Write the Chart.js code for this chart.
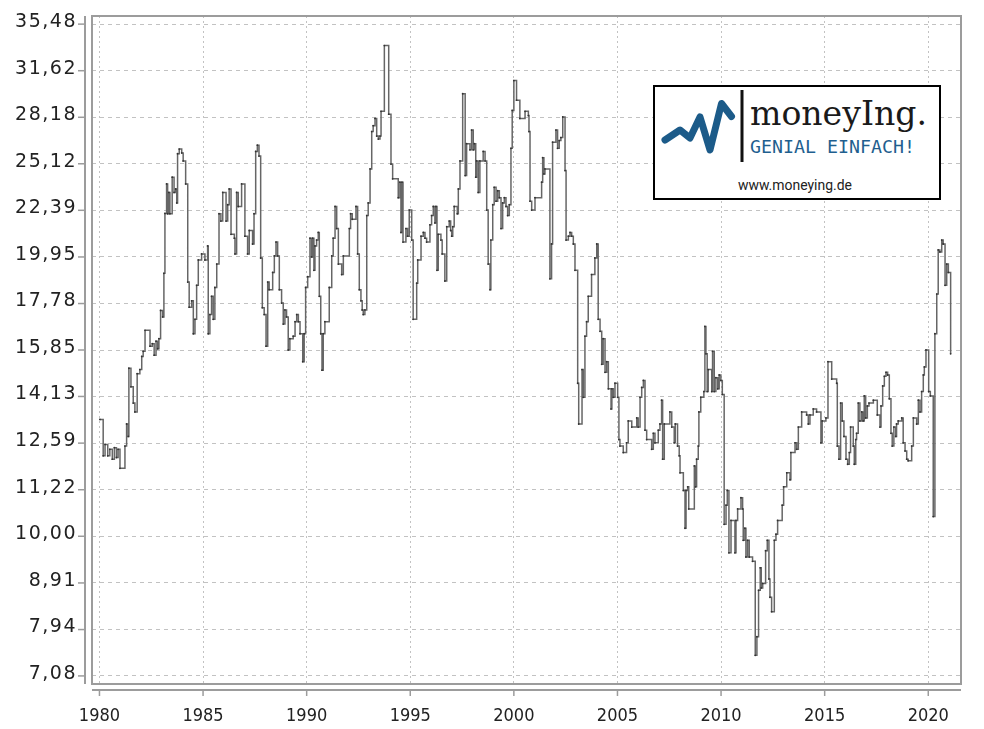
<!DOCTYPE html>
<html>
<head>
<meta charset="utf-8">
<title>KGV</title>
<script src="https://cdn.jsdelivr.net/npm/chart.js@4.4.1/dist/chart.umd.min.js"></script>
<style>
    html, body { margin: 0; padding: 0; background: #fff; }
    #wrap { position: relative; width: 984px; height: 729px; }
    #logo { position: absolute; left: 653px; top: 85px; width: 288px; height: 115px;
            box-sizing: border-box; border: 2px solid #000; background: #fff; }
    #logo svg { position: absolute; left: 0; top: 0; }
</style>
</head>
<body>
<div id="wrap">
    <canvas id="kgv-chart" width="984" height="729"></canvas>
    <div id="logo">
        <svg width="284" height="111" viewBox="0 0 284 111">
            <polyline points="10,53 25,43 35,51 45,30 55,63 66.5,16.5 76.5,29.5"
                      fill="none" stroke="#1c5b89" stroke-width="7" stroke-linecap="round" stroke-linejoin="round"/>
            <rect x="85.5" y="3" width="3" height="72" fill="#111"/>
            <text x="95" y="38" font-family="DejaVu Serif" font-size="34" fill="#1a1a1a"
                  textLength="177" lengthAdjust="spacingAndGlyphs">moneyIng.</text>
            <text x="95" y="66" font-family="DejaVu Sans Mono" font-size="17" fill="#1f5f8f"
                  textLength="165" lengthAdjust="spacingAndGlyphs">GENIAL EINFACH!</text>
            <text x="83" y="103" font-family="Roboto" font-size="15" fill="#222"
                  textLength="114" lengthAdjust="spacingAndGlyphs">www.moneying.de</text>
        </svg>
    </div>
</div>
<script>
// KGV-Verlauf (monatlich)
const years = [
    1980.02, 1980.18, 1980.27, 1980.4, 1980.5, 1980.62, 1980.72, 1980.82, 1980.9, 1980.99,
    1981.23, 1981.31, 1981.39, 1981.42, 1981.52, 1981.63, 1981.71, 1981.82, 1981.95,
    1982.04, 1982.11, 1982.2, 1982.44, 1982.55, 1982.64, 1982.73, 1982.81, 1982.87, 1982.95,
    1983.05, 1983.11, 1983.16, 1983.24, 1983.29, 1983.35, 1983.4, 1983.51, 1983.6, 1983.68, 1983.73, 1983.77, 1983.85, 1983.97,
    1984.04, 1984.16, 1984.26, 1984.33, 1984.45, 1984.53, 1984.61, 1984.69, 1984.77, 1984.93,
    1985.09, 1985.22, 1985.25, 1985.33, 1985.41, 1985.49, 1985.57, 1985.66, 1985.77, 1985.86, 1985.95,
    1986.11, 1986.19, 1986.26, 1986.35, 1986.51, 1986.54, 1986.62, 1986.7, 1986.86,
    1987.02, 1987.15, 1987.23, 1987.39, 1987.46, 1987.54, 1987.62, 1987.7, 1987.78, 1987.86, 1987.95,
    1988.04, 1988.12, 1988.19, 1988.36, 1988.44, 1988.52, 1988.6, 1988.68, 1988.79, 1988.87, 1988.95,
    1989.03, 1989.11, 1989.19, 1989.35, 1989.44, 1989.52, 1989.6, 1989.68, 1989.81, 1989.88, 1989.95,
    1990.05, 1990.16, 1990.24, 1990.29, 1990.35, 1990.4, 1990.48, 1990.56, 1990.61, 1990.68, 1990.74, 1990.8, 1990.88,
    1991.09, 1991.21, 1991.28, 1991.37, 1991.45, 1991.53, 1991.69, 1991.77,
    1992.06, 1992.12, 1992.2, 1992.38, 1992.46, 1992.54, 1992.62, 1992.68, 1992.73, 1992.81, 1992.9, 1992.97,
    1993.06, 1993.14, 1993.21, 1993.3, 1993.38, 1993.46, 1993.54, 1993.59, 1993.75, 1993.96,
    1994.07, 1994.15, 1994.42, 1994.5, 1994.55, 1994.6, 1994.65, 1994.79, 1994.87, 1994.95,
    1995.07, 1995.14, 1995.31, 1995.36, 1995.52, 1995.63, 1995.71, 1995.79, 1995.95,
    1996.03, 1996.11, 1996.19, 1996.24, 1996.29, 1996.35, 1996.48, 1996.54, 1996.67, 1996.76, 1996.88, 1996.95,
    1997.0, 1997.05, 1997.12, 1997.27, 1997.32, 1997.4, 1997.53, 1997.65, 1997.72, 1997.88, 1997.96,
    1998.04, 1998.09, 1998.16, 1998.2, 1998.28, 1998.36, 1998.52, 1998.61, 1998.69, 1998.76, 1998.85, 1998.89, 1998.98,
    1999.05, 1999.14, 1999.22, 1999.3, 1999.38, 1999.46, 1999.54, 1999.62, 1999.7, 1999.78, 1999.86, 1999.92,
    2000.0, 2000.13, 2000.29, 2000.54, 2000.7, 2000.73, 2000.78, 2000.86,
    2001.02, 2001.34, 2001.39, 2001.45, 2001.5, 2001.74, 2001.82, 2001.87,
    2002.03, 2002.11, 2002.19, 2002.27, 2002.36, 2002.47, 2002.52, 2002.63, 2002.71, 2002.79, 2002.87, 2002.95,
    2003.08, 2003.13, 2003.29, 2003.35, 2003.43, 2003.51, 2003.59, 2003.75, 2003.91,
    2004.0, 2004.07, 2004.16, 2004.24, 2004.31, 2004.4, 2004.48, 2004.56, 2004.69, 2004.73, 2004.8, 2004.88,
    2005.01, 2005.07, 2005.12, 2005.28, 2005.44, 2005.52, 2005.69, 2005.93,
    2006.0, 2006.09, 2006.17, 2006.25, 2006.33, 2006.41, 2006.65, 2006.73, 2006.81, 2006.97,
    2007.05, 2007.13, 2007.18, 2007.26, 2007.53, 2007.62, 2007.74, 2007.79, 2007.9, 2007.98,
    2008.02, 2008.18, 2008.26, 2008.31, 2008.39, 2008.44, 2008.71, 2008.77, 2008.82, 2008.9, 2008.93,
    2009.02, 2009.17, 2009.22, 2009.27, 2009.33, 2009.38, 2009.55, 2009.59, 2009.67, 2009.75, 2009.84, 2009.91, 2009.99,
    2010.06, 2010.15, 2010.24, 2010.3, 2010.38, 2010.48, 2010.67, 2010.72, 2010.8, 2010.96,
    2011.04, 2011.07, 2011.15, 2011.2, 2011.28, 2011.36, 2011.52, 2011.65, 2011.73, 2011.81, 2011.89, 2011.94,
    2012.01, 2012.15, 2012.23, 2012.31, 2012.36, 2012.44, 2012.57, 2012.65, 2012.73, 2012.95,
    2013.02, 2013.17, 2013.33, 2013.37, 2013.57, 2013.65, 2013.73, 2013.89,
    2014.13, 2014.21, 2014.29, 2014.45, 2014.61, 2014.82, 2014.88,
    2015.06, 2015.16, 2015.34, 2015.58, 2015.61, 2015.69, 2015.77, 2015.85, 2015.93,
    2016.03, 2016.11, 2016.19, 2016.25, 2016.38, 2016.43, 2016.5, 2016.54, 2016.62, 2016.7, 2016.79, 2016.86, 2016.91, 2016.98,
    2017.06, 2017.14, 2017.35, 2017.54, 2017.67, 2017.72, 2017.8, 2017.88, 2017.96,
    2018.04, 2018.12, 2018.2, 2018.26, 2018.34, 2018.43, 2018.47, 2018.55, 2018.72, 2018.79, 2018.88, 2018.96,
    2019.03, 2019.2, 2019.28, 2019.44, 2019.52, 2019.6, 2019.68, 2019.76, 2019.81, 2019.89,
    2020.02, 2020.1, 2020.24, 2020.32, 2020.41, 2020.48, 2020.56, 2020.65, 2020.72, 2020.81, 2020.89, 2020.97,
    2021.08
];
const kgv = [
    13.35, 12.2, 12.55, 12.2, 12.4, 12.1, 12.45, 12.15, 12.4, 11.83,
    12.5, 13.2, 12.8, 15.15, 14.47, 13.9, 13.6, 14.95, 15.1,
    15.6, 15.8, 16.64, 16.0, 16.1, 15.65, 16.2, 15.9, 16.3, 17.48,
    17.2, 19.16, 22.22, 23.9, 22.2, 23.4, 22.2, 24.3, 23.4, 23.6, 22.8, 25.75, 26.05, 25.8,
    25.3, 23.9, 18.75, 17.62, 17.9, 16.5, 17.1, 18.6, 19.8, 20.1,
    19.8, 20.5, 16.5, 17.3, 18.1, 17.1, 18.5, 19.6, 22.2, 21.8, 23.4,
    21.8, 22.7, 23.6, 21.1, 20.9, 20.1, 23.4, 22.6, 23.9,
    21.0, 20.1, 21.3, 20.6, 22.2, 25.9, 26.3, 25.6, 19.9, 17.6, 17.3,
    16.0, 18.75, 18.4, 19.2, 20.0, 20.7, 20.0, 18.4, 17.8, 16.9, 17.5,
    17.2, 15.85, 16.3, 16.4, 17.0, 17.3, 17.0, 16.5, 15.4, 16.5, 18.5,
    19.0, 20.9, 19.95, 20.9, 19.3, 20.5, 20.8, 21.2, 18.1, 16.5, 15.08, 16.5, 17.0,
    18.5, 20.0, 20.9, 22.6, 21.4, 19.6, 19.1, 20.0,
    21.4, 22.2, 21.9, 22.6, 20.1, 18.4, 17.9, 17.5, 17.3, 17.5, 22.1, 22.8,
    24.8, 27.2, 27.6, 28.1, 26.9, 26.7, 26.9, 28.6, 33.65, 28.4,
    25.1, 24.2, 23.1, 24.0, 21.2, 24.0, 20.7, 21.4, 21.0, 22.4,
    20.8, 17.1, 18.7, 19.8, 21.0, 21.2, 20.9, 20.7, 21.6,
    22.1, 22.6, 21.7, 22.6, 19.3, 21.1, 20.8, 20.1, 18.8, 21.5, 21.8, 21.3,
    21.0, 21.5, 22.6, 22.2, 23.6, 25.3, 29.87, 24.4, 26.4, 26.0, 27.3,
    26.0, 26.4, 24.3, 25.3, 23.4, 25.3, 25.9, 25.3, 22.4, 19.6, 18.4, 20.8, 22.7,
    23.7, 22.9, 23.5, 23.1, 21.4, 22.8, 23.1, 22.6, 22.1, 22.7, 26.1, 28.66,
    30.86, 29.4, 28.1, 28.6, 28.3, 27.2, 22.9, 22.4,
    23.1, 24.0, 25.5, 24.5, 24.8, 18.9, 20.6, 26.5,
    27.3, 26.1, 26.6, 26.8, 28.2, 24.7, 20.8, 21.0, 21.2, 21.0, 20.6, 19.3,
    14.6, 13.2, 15.1, 14.1, 16.4, 17.0, 18.1, 19.1, 19.9,
    20.6, 17.1, 16.6, 15.3, 16.3, 15.0, 15.4, 14.4, 13.7, 14.4, 14.1, 14.6,
    14.1, 12.7, 12.5, 12.3, 12.6, 13.3, 13.1, 13.4,
    13.1, 14.1, 14.45, 14.7, 13.0, 12.7, 12.4, 12.9, 12.6, 13.0,
    13.2, 14.0, 12.1, 13.2, 13.6, 13.1, 12.6, 13.2, 12.5, 12.2,
    11.7, 11.2, 10.2, 11.2, 11.3, 10.7, 11.9, 11.3, 12.1, 12.5, 13.6,
    14.1, 14.3, 16.8, 15.7, 14.3, 15.1, 14.3, 15.8, 14.3, 14.8, 14.4, 14.9, 14.7,
    14.2, 10.3, 10.8, 11.2, 9.6, 10.4, 9.6, 10.4, 10.7, 11.0,
    10.7, 9.9, 10.2, 9.5, 9.9, 9.5, 9.4, 7.45, 7.8, 8.75, 9.25, 8.8,
    8.9, 9.65, 9.9, 9.0, 8.6, 8.3, 9.9, 10.05, 10.4, 10.8,
    11.3, 11.7, 11.5, 12.3, 12.6, 12.4, 13.1, 13.6,
    13.5, 13.2, 13.5, 13.7, 13.6, 12.6, 13.3,
    13.4, 15.4, 14.75, 14.6, 12.5, 12.1, 13.9, 13.3, 12.8,
    12.1, 11.95, 12.3, 13.1, 12.5, 11.95, 12.7, 12.9, 13.9, 13.3, 13.6, 13.3, 14.15, 13.4,
    13.8, 13.9, 14.0, 13.5, 13.1, 13.8, 14.5, 14.85, 15.0,
    14.9, 14.05, 12.9, 12.5, 13.1, 12.8, 13.2, 13.3, 13.4, 12.6, 12.35, 12.1,
    12.05, 12.5, 13.4, 13.2, 14.0, 13.6, 14.3, 14.9, 15.2, 15.85,
    14.3, 14.15, 10.5, 16.5, 18.2, 20.3, 20.2, 20.8, 20.6, 18.6, 19.6, 19.2,
    15.7
];
const yTicks = [7.08, 7.94, 8.91, 10.00, 11.22, 12.59, 14.13, 15.85, 17.78, 19.95, 22.39, 25.12, 28.18, 31.62, 35.48];
const xTicks = [1980, 1985, 1990, 1995, 2000, 2005, 2010, 2015, 2020];

const points = years.map((x, i) => ({ x: x, y: kgv[i] }));

// Rahmen, abgesetzte Achsenlinien und Beschriftung
const framePlugin = {
    id: 'frame',
    afterDraw(chart) {
        const ctx = chart.ctx;
        const a = chart.chartArea;
        const xs = chart.scales.x;
        const ys = chart.scales.y;
        ctx.save();
        ctx.strokeStyle = '#9c9c9c';
        ctx.lineWidth = 2;
        ctx.strokeRect(a.left, a.top, a.right - a.left, a.bottom - a.top);

        // linke Achse
        const axX = a.left - 7;
        ctx.beginPath();
        ctx.moveTo(axX, a.top);
        ctx.lineTo(axX, a.bottom);
        ctx.stroke();
        // untere Achse
        const axY = a.bottom + 6;
        ctx.beginPath();
        ctx.moveTo(a.left, axY);
        ctx.lineTo(a.right, axY);
        ctx.stroke();

        ctx.lineWidth = 1.5;
        ctx.fillStyle = '#222';
        ctx.font = '19px "DejaVu Sans"';
        ctx.letterSpacing = '1.5px';
        ctx.textAlign = 'right';
        ctx.textBaseline = 'middle';
        yTicks.forEach(v => {
            const py = ys.getPixelForValue(v);
            ctx.beginPath();
            ctx.moveTo(axX - 7, py);
            ctx.lineTo(axX, py);
            ctx.stroke();
            ctx.fillText(v.toFixed(2).replace('.', ','), axX - 8, py - 2);
        });

        ctx.letterSpacing = '0px';
        ctx.font = '18px "DejaVu Sans Condensed", "DejaVu Sans"';
        ctx.textAlign = 'center';
        xTicks.forEach(v => {
            const px = xs.getPixelForValue(v);
            ctx.beginPath();
            ctx.moveTo(px, axY);
            ctx.lineTo(px, axY + 6);
            ctx.stroke();
            ctx.fillText(String(v), px, 716);
        });
        ctx.restore();
    }
};

new Chart(document.getElementById('kgv-chart'), {
    type: 'line',
    data: {
        datasets: [{
            label: 'KGV',
            data: points,
            stepped: true,
            borderColor: '#666',
            borderWidth: 1.5,
            pointRadius: 0.9,
            pointBorderWidth: 0,
            pointBackgroundColor: '#333',
            fill: false
        }]
    },
    options: {
        responsive: false,
        animation: false,
        devicePixelRatio: 1,
        layout: { padding: { top: 16, right: 23, left: 0, bottom: 0 } },
        plugins: { legend: { display: false }, tooltip: { enabled: false } },
        scales: {
            x: {
                type: 'linear',
                min: 1979.64,
                max: 2021.58,
                afterBuildTicks: s => { s.ticks = xTicks.map(v => ({ value: v })); },
                afterFit: s => { s.height = 45; },
                ticks: { display: false },
                grid: { color: '#c2c2c2', lineWidth: 1, drawTicks: false },
                border: { display: false, dash: [2, 3] }
            },
            y: {
                type: 'logarithmic',
                min: 6.94,
                max: 36.2,
                afterBuildTicks: s => { s.ticks = yTicks.map(v => ({ value: v })); },
                afterFit: s => { s.width = 92; },
                ticks: { display: false },
                grid: { color: '#c2c2c2', lineWidth: 1, drawTicks: false },
                border: { display: false, dash: [4, 4] }
            }
        }
    },
    plugins: [framePlugin]
});
</script>
</body>
</html>
